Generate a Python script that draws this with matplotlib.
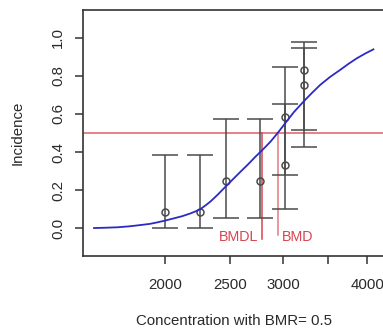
import matplotlib
matplotlib.use("Agg")
import matplotlib.pyplot as plt
from matplotlib.ticker import FixedLocator, FixedFormatter, NullLocator

plt.rcParams["font.family"] = ["Liberation Sans", "DejaVu Sans"]

# observed incidence with confidence limits
dose = [2000, 2254, 2469, 2768, 3020, 3020, 3223, 3223]
incidence = [0.083, 0.083, 0.25, 0.25, 0.333, 0.583, 0.75, 0.833]
ci_lower = [0.002, 0.002, 0.055, 0.055, 0.099, 0.277, 0.428, 0.516]
ci_upper = [0.385, 0.385, 0.572, 0.572, 0.651, 0.848, 0.945, 0.979]

# fitted curve
curve_x = [1569, 1640, 1700, 1770, 1841, 1900, 1949, 2005, 2062, 2120,
           2183, 2222, 2259, 2300, 2338, 2400, 2460, 2525, 2590, 2660,
           2726, 2800, 2870, 2942, 3020, 3110, 3214, 3300, 3403, 3520,
           3644, 3750, 3858, 3970, 4083]
curve_y = [0.0, 0.002, 0.004, 0.009, 0.016, 0.022, 0.03, 0.04, 0.051, 0.062,
           0.077, 0.088, 0.10, 0.12, 0.14, 0.178, 0.217, 0.257, 0.296, 0.336,
           0.375, 0.415, 0.454, 0.50, 0.552, 0.61, 0.665, 0.707, 0.753, 0.795,
           0.832, 0.864, 0.893, 0.918, 0.94]

bmr = 0.5
bmdl = 2793
bmd = 2942

x_ticks = [2000, 2500, 3000, 3500, 4000]
x_tick_labels = ["2000", "2500", "3000", "", "4000"]
y_ticks = [0.0, 0.2, 0.4, 0.6, 0.8, 1.0]
y_tick_labels = ["0.0", "0.2", "0.4", "0.6", "0.8", "1.0"]

RED = "#d9434f"
GREY = "#4a4a4a"


def plot_bmd(out_path="out.png"):
    fig = plt.figure(figsize=(3.83, 3.36), dpi=100)
    # right edge of the box sits just past the picture, as in the source
    ax = fig.add_axes([83 / 383, 80 / 336, 305 / 383, 246 / 336])
    ax.set_xscale("log")
    ax.set_xlim(1511, 4292)
    ax.set_ylim(-0.147, 1.147)

    # error bars for each dose group
    yerr = [[i - lo for i, lo in zip(incidence, ci_lower)],
            [hi - i for i, hi in zip(incidence, ci_upper)]]
    ax.errorbar(dose, incidence, yerr=yerr, fmt="o", color=GREY,
                ecolor=GREY, elinewidth=1.1, capsize=9.4, capthick=1.1,
                markersize=5, markerfacecolor="none", markeredgewidth=1.1,
                zorder=3)

    ax.plot(curve_x, curve_y, color="#2b2bc4", lw=1.3, zorder=4)

    # BMR line and BMD / BMDL markers
    ax.axhline(bmr, color=RED, lw=1.1, alpha=0.85, zorder=2)
    ax.plot([bmdl, bmdl], [bmr, -0.055], color=RED, lw=1.1, zorder=2)
    ax.plot([bmd, bmd], [bmr, -0.038], color="#e37a80", lw=1.1, zorder=2)
    ax.text(bmdl * 0.985, -0.046, "BMDL", color=RED, fontsize=10.3,
            ha="right", va="center")
    ax.text(bmd * 1.015, -0.046, "BMD", color=RED, fontsize=10.3,
            ha="left", va="center")

    ax.xaxis.set_major_locator(FixedLocator(x_ticks))
    ax.xaxis.set_major_formatter(FixedFormatter(x_tick_labels))
    ax.xaxis.set_minor_locator(NullLocator())
    ax.yaxis.set_major_locator(FixedLocator(y_ticks))
    ax.yaxis.set_major_formatter(FixedFormatter(y_tick_labels))

    ax.tick_params(axis="both", length=6, width=1.1, color="#333333",
                   labelsize=10.8, labelcolor="#2a2a2a")
    ax.tick_params(axis="x", pad=10)
    ax.tick_params(axis="y", pad=7)
    for lbl in ax.get_yticklabels():
        lbl.set_rotation(90)
        lbl.set_va("center")

    for side in ["top", "bottom", "left", "right"]:
        ax.spines[side].set_color("#333333")
        ax.spines[side].set_linewidth(1.2)

    fig.text(234 / 383, 1 - 321 / 336, "Concentration with BMR= 0.5",
             ha="center", va="center", fontsize=10.8, color="#2a2a2a")
    fig.text(18 / 383, 1 - 133 / 336, "Incidence", rotation=90,
             ha="center", va="center", fontsize=10.8, color="#2a2a2a")

    fig.savefig(out_path, dpi=100)
    plt.close(fig)


def main():
    plot_bmd()


if __name__ == "__main__":
    main()
